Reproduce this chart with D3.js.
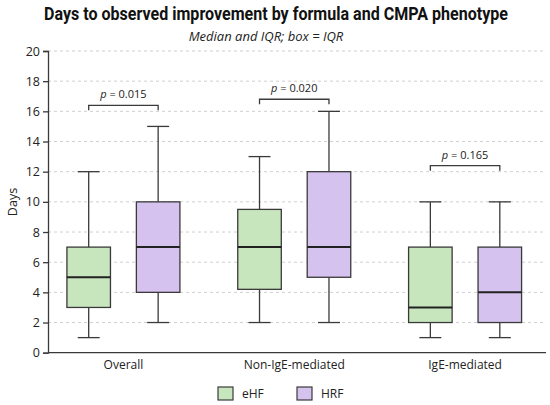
<!DOCTYPE html>
<html><head><meta charset="utf-8">
<script src="https://cdn.jsdelivr.net/npm/d3@7"></script>
<style>body{margin:0;background:#fff;} svg{display:block;font-family:"Open Sans",sans-serif;}</style>
</head><body>
<svg id="c" width="550" height="405"></svg>
<script>
const categories = ["Overall", "Non-IgE-mediated", "IgE-mediated"];
const seriesNames = ["eHF", "HRF"];
// [whiskerLow, q1, median, q3, whiskerHigh]
const eHF = [[1, 3, 5, 7, 12], [2, 4.2, 7, 9.5, 13], [1, 2, 3, 7, 10]];
const HRF = [[2, 4, 7, 10, 15], [2, 5, 7, 12, 16], [1, 2, 4, 7, 10]];
const pLabels = ["p = 0.015", "p = 0.020", "p = 0.165"];
const bracketLevels = [16.4, 16.8, 12.4];
const yTicks = [0, 2, 4, 6, 8, 10, 12, 14, 16, 18, 20];
const colors = ["#c8e6be", "#d5c2ee"];

const svg = d3.select("#c");
const y = d3.scaleLinear().domain([0, 20]).range([352.7, 51]);
const x = d3.scaleBand().domain(categories).range([38, 550.5]);
const sub = d3.scaleBand().domain(seriesNames).range([-56.5, 56.5]).paddingInner(0.373).paddingOuter(0);
const stroke = "#3a3a3a";

// gridlines
svg.append("g").selectAll("line").data(yTicks.filter(d => d > 0)).join("line")
  .attr("x1", 48).attr("x2", 546).attr("y1", d => y(d)).attr("y2", d => y(d))
  .attr("stroke", "#cfcfcf").attr("stroke-width", 1).attr("stroke-dasharray", "3,3");

// y axis
const yAxis = svg.append("g").attr("transform", "translate(48,0)")
  .call(d3.axisLeft(y).tickValues(yTicks).tickSize(5).tickPadding(3));
yAxis.select(".domain").attr("stroke", stroke).attr("stroke-width", 1.3);
yAxis.selectAll(".tick line").attr("stroke", stroke).attr("stroke-width", 1.3);
yAxis.selectAll("text").attr("font-size", 12.5).attr("fill", "#222").attr("font-family", "Open Sans");

// x axis
const xAxis = svg.append("g").attr("transform", "translate(0," + y(0) + ")")
  .call(d3.axisBottom(x).tickSize(0).tickPadding(8));
xAxis.select(".domain").remove();
svg.append("line").attr("x1", 48).attr("x2", 546).attr("y1", y(0)).attr("y2", y(0))
  .attr("stroke", stroke).attr("stroke-width", 1.3);
xAxis.selectAll("text").attr("font-size", 12).attr("fill", "#222").attr("font-family", "Open Sans");

// y label
svg.append("text").attr("transform", "translate(17,202) rotate(-90)").attr("text-anchor", "middle")
  .attr("font-size", 12.5).attr("fill", "#222").text("Days");

// boxes
const series = [eHF, HRF];
const bw = sub.bandwidth();
const capW = 22;
series.forEach((ser, si) => {
  const g = svg.append("g");
  ser.forEach((v, ci) => {
    const cx = x(categories[ci]) + x.bandwidth() / 2 + sub(seriesNames[si]) + bw / 2;
    const [lo, q1, med, q3, hi] = v;
    const gg = g.append("g");
    gg.append("line").attr("x1", cx).attr("x2", cx).attr("y1", y(hi)).attr("y2", y(q3)).attr("stroke", stroke).attr("stroke-width", 1.3);
    gg.append("line").attr("x1", cx).attr("x2", cx).attr("y1", y(q1)).attr("y2", y(lo)).attr("stroke", stroke).attr("stroke-width", 1.3);
    gg.append("line").attr("x1", cx - capW / 2).attr("x2", cx + capW / 2).attr("y1", y(hi)).attr("y2", y(hi)).attr("stroke", stroke).attr("stroke-width", 1.3);
    gg.append("line").attr("x1", cx - capW / 2).attr("x2", cx + capW / 2).attr("y1", y(lo)).attr("y2", y(lo)).attr("stroke", stroke).attr("stroke-width", 1.3);
    gg.append("rect").attr("x", cx - bw / 2).attr("width", bw).attr("y", y(q3)).attr("height", y(q1) - y(q3))
      .attr("fill", colors[si]).attr("stroke", stroke).attr("stroke-width", 1.3);
    gg.append("line").attr("x1", cx - bw / 2).attr("x2", cx + bw / 2).attr("y1", y(med)).attr("y2", y(med)).attr("stroke", "#222").attr("stroke-width", 2);
  });
});

// brackets
categories.forEach((c, ci) => {
  const x1 = x(c) + x.bandwidth() / 2 + sub(seriesNames[0]) + bw / 2;
  const x2 = x(c) + x.bandwidth() / 2 + sub(seriesNames[1]) + bw / 2;
  const yt = y(bracketLevels[ci]);
  svg.append("path").attr("d", `M${x1},${yt + 5}V${yt}H${x2}V${yt + 5}`)
    .attr("fill", "none").attr("stroke", stroke).attr("stroke-width", 1.3);
  const t = svg.append("text").attr("x", (x1 + x2) / 2).attr("y", yt - 7).attr("text-anchor", "middle")
    .attr("font-size", 11).attr("fill", "#222");
  t.append("tspan").attr("font-style", "italic").text("p");
  t.append("tspan").text(pLabels[ci].slice(1));
});

// title
svg.append("text").attr("x", 276).attr("y", 19.5).attr("text-anchor", "middle")
  .attr("font-size", 17.5).attr("font-weight", "bold").attr("fill", "#111").attr("font-family", "Roboto")
  .attr("textLength", 464).attr("lengthAdjust", "spacingAndGlyphs")
  .text("Days to observed improvement by formula and CMPA phenotype");
svg.append("text").attr("x", 266).attr("y", 41).attr("text-anchor", "middle")
  .attr("font-size", 13).attr("font-style", "italic").attr("fill", "#222")
  .text("Median and IQR; box = IQR");

// legend
const leg = svg.append("g");
const legX = [218, 297];
seriesNames.forEach((n, i) => {
  leg.append("rect").attr("x", legX[i]).attr("y", 387).attr("width", 15).attr("height", 13)
    .attr("fill", colors[i]).attr("stroke", stroke).attr("stroke-width", 1.2);
  leg.append("text").attr("x", legX[i] + 24).attr("y", 398).attr("font-size", 12).attr("fill", "#222").text(n);
});
</script>
</body></html>
